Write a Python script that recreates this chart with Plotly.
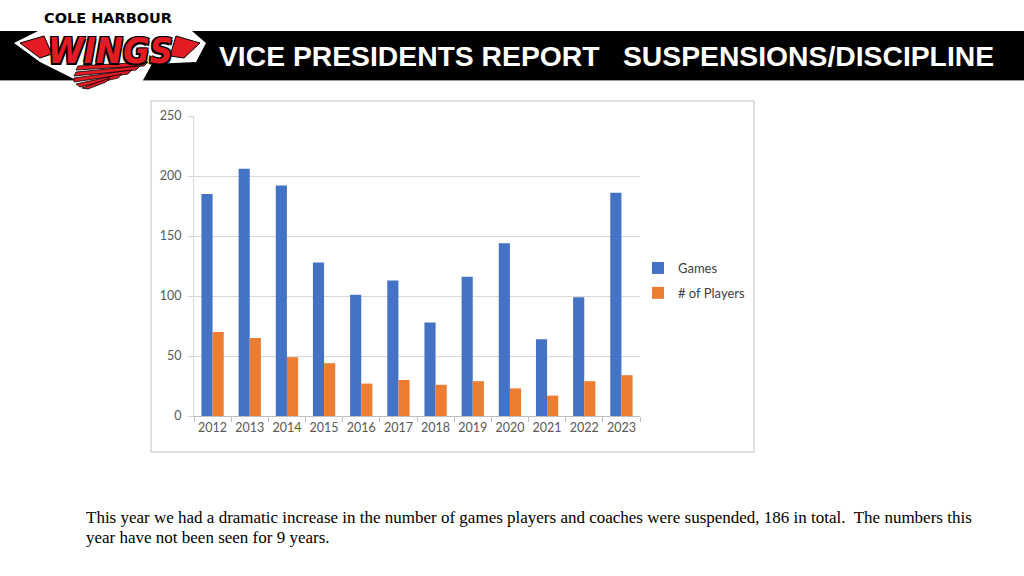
import plotly.graph_objects as go

years = ["2012", "2013", "2014", "2015", "2016", "2017", "2018", "2019", "2020", "2021", "2022", "2023"]
games = [185, 206, 192, 128, 101, 113, 78, 116, 144, 64, 99, 186]
players = [70, 65, 49, 44, 27, 30, 26, 29, 23, 17, 29, 34]
y_ticks = [0, 50, 100, 150, 200, 250]

W, H = 1024, 576
def px(x): return x / W
def py(y): return 1 - y / H

fig = go.Figure()
fig.add_trace(go.Bar(x=years, y=games, name="Games", marker_color="#4472C4",
                     marker_line_width=0, legendgroup="g"))
fig.add_trace(go.Bar(x=years, y=players, name="# of Players", marker_color="#ED7D31",
                     marker_line_width=0, legendgroup="p"))

tick_font = dict(family="Lato, Open Sans, sans-serif", size=12.5, color="#595959")

fig.update_layout(
    width=W, height=H,
    margin=dict(l=0, r=0, t=0, b=0, autoexpand=False),
    paper_bgcolor="white", plot_bgcolor="white",
    barmode="group", bargap=0.4, bargroupgap=0,
    showlegend=True,
    legend=dict(x=px(638), y=py(253), xanchor="left", yanchor="top",
                font=dict(family="Lato, Open Sans, sans-serif", size=13, color="#404040"),
                tracegroupgap=5, bgcolor="rgba(0,0,0,0)", itemwidth=30),
    xaxis=dict(domain=[px(194), px(640)], showgrid=False, showline=True,
               linecolor="#BFBFBF", linewidth=1, ticks="outside", tickson="boundaries",
               ticklen=5, tickcolor="#BFBFBF", tickfont=tick_font, tickangle=0,
               automargin=False, fixedrange=True),
    yaxis=dict(domain=[py(416), py(116)], range=[0, 250], tickvals=y_ticks,
               showgrid=True, gridcolor="#D9D9D9", gridwidth=1,
               showline=True, linecolor="#D9D9D9", zeroline=False,
               ticks="outside", ticklen=5, tickcolor="#D9D9D9",
               tickfont=tick_font, ticklabelstandoff=4, automargin=False, fixedrange=True),
)

def path(points):
    return "M " + " L ".join(f"{px(x)},{py(y)}" for x, y in points) + " Z"

shapes = []
# chart border
shapes.append(dict(type="rect", xref="paper", yref="paper",
                   x0=px(151), x1=px(754), y0=py(452), y1=py(101),
                   line=dict(color="#BFBFBF", width=1), fillcolor="rgba(0,0,0,0)", layer="below"))
# header black band
shapes.append(dict(type="rect", xref="paper", yref="paper",
                   x0=0, x1=1, y0=py(80), y1=py(31),
                   line=dict(width=0), fillcolor="#000000", layer="below"))
shapes.append(dict(type="line", xref="paper", yref="paper",
                   x0=0, x1=1, y0=py(80.5), y1=py(80.5),
                   line=dict(color="#9a9a9a", width=1)))
# logo white backdrop
shapes.append(dict(type="path", xref="paper", yref="paper",
                   path=path([(14, 43), (38, 31), (192, 31), (206, 43), (196, 62), (152, 64),
                              (142, 82), (80, 82), (60, 72), (40, 62)]),
                   fillcolor="white", line=dict(width=0)))
# pointed wing tips left/right of letters
shapes.append(dict(type="path", xref="paper", yref="paper",
                   path=path([(20, 43), (44, 36), (52, 54), (40, 58)]),
                   fillcolor="#E31B23", line=dict(color="black", width=1)))
shapes.append(dict(type="path", xref="paper", yref="paper",
                   path=path([(200, 43), (176, 36), (170, 56), (184, 58)]),
                   fillcolor="#E31B23", line=dict(color="black", width=1)))
# wing feathers (red)
feathers = [(148, 62, 78, 66, 76, 70), (140, 66, 76, 72, 74, 76), (132, 70, 74, 78, 74, 82),
            (122, 74, 76, 84, 80, 87), (110, 78, 82, 88, 88, 89)]
for (xa, ya, xb, yb, xc, yc) in feathers:
    shapes.append(dict(type="path", xref="paper", yref="paper",
                       path=path([(xa, ya), (xb, yb), (xc, yc), (xa - 4, ya + 4)]),
                       fillcolor="#E31B23", line=dict(color="black", width=0.8)))
fig.update_layout(shapes=shapes)

ann = []
ann.append(dict(text="<b>COLE HARBOUR</b>", xref="paper", yref="paper", x=px(108), y=py(18),
                xanchor="center", yanchor="middle", showarrow=False, borderpad=0,
                font=dict(family="DejaVu Sans, sans-serif", size=14.5, color="black")))
ann.append(dict(text="<b><i>WINGS</i></b>", xref="paper", yref="paper", x=px(110), y=py(51),
                xanchor="center", yanchor="middle", showarrow=False, borderpad=0,
                font=dict(family="DejaVu Sans Condensed, DejaVu Sans, sans-serif", size=36, color="#E31B23",
                          shadow="1.5px 1.5px 0 #000, -1.5px -1.5px 0 #000, 1.5px -1.5px 0 #000, -1.5px 1.5px 0 #000")))
title_font = dict(family="Liberation Sans, Arial, sans-serif", size=28.3, color="white")
ann.append(dict(text="<b>VICE PRESIDENTS REPORT</b>", xref="paper", yref="paper", x=px(217), y=py(56),
                xanchor="left", yanchor="middle", showarrow=False, font=title_font))
ann.append(dict(text="<b>SUSPENSIONS/DISCIPLINE</b>", xref="paper", yref="paper", x=px(996), y=py(56),
                xanchor="right", yanchor="middle", showarrow=False, font=title_font))
body_font = dict(family="Liberation Serif, Times New Roman, serif", size=17, color="black")
ann.append(dict(text="This year we had a dramatic increase in the number of games players and coaches were suspended, 186 in total.  The numbers this",
                xref="paper", yref="paper", x=px(84), y=py(517), xanchor="left", yanchor="middle",
                align="left", showarrow=False, font=body_font))
ann.append(dict(text="year have not been seen for 9 years.",
                xref="paper", yref="paper", x=px(84), y=py(537), xanchor="left", yanchor="middle",
                align="left", showarrow=False, font=body_font))
fig.update_layout(annotations=ann)

fig.write_html("out.html", config={"displayModeBar": False},
               post_script="document.body.style.margin='0';")
